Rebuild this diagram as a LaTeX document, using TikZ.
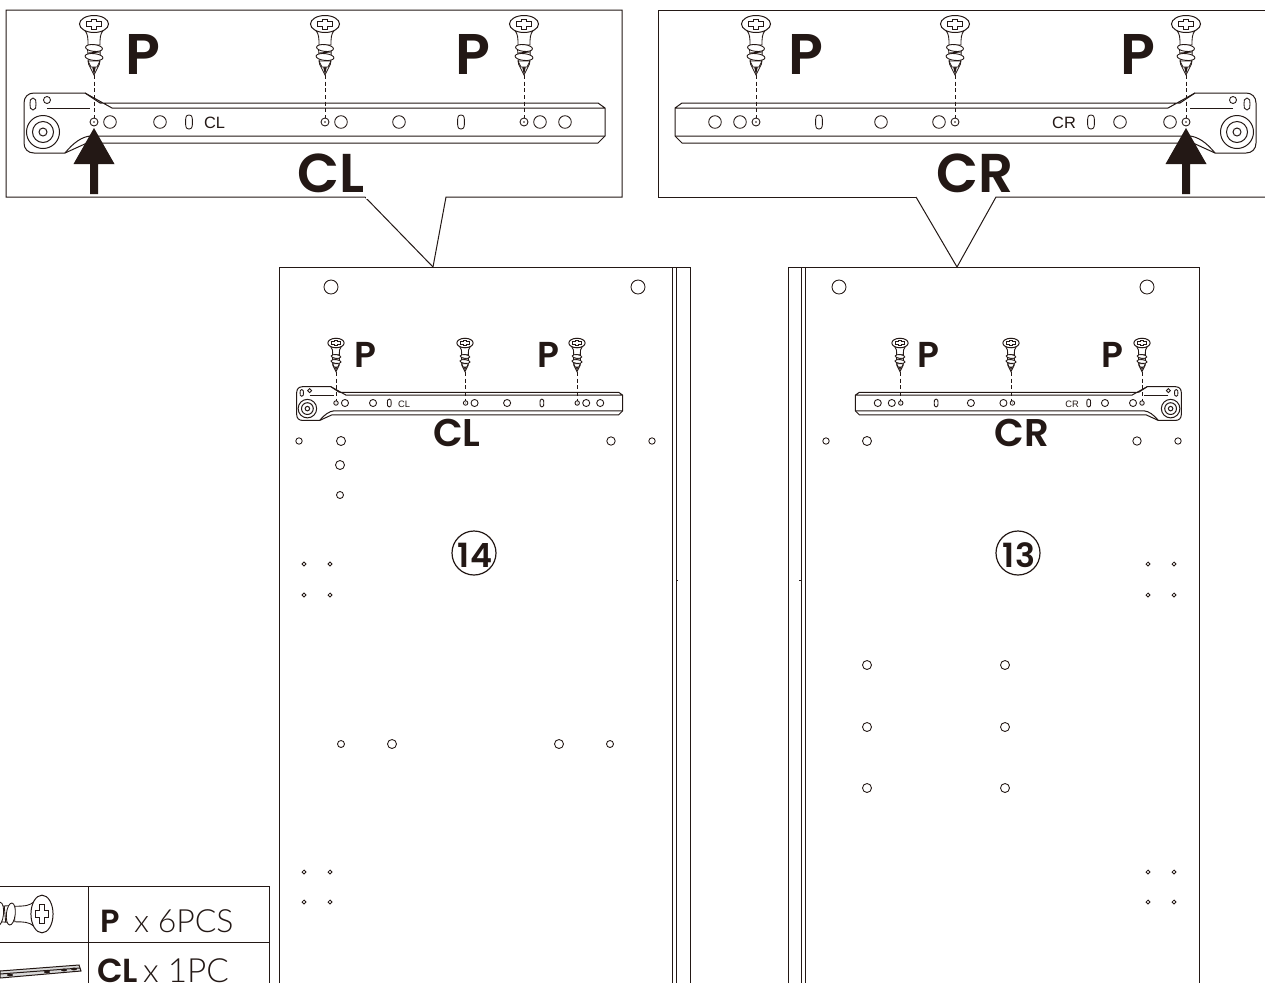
\documentclass[tikz,border=0pt]{standalone}
\usepackage{fontspec}
\setmainfont{Liberation Sans}
\newfontfamily\pop{Poppins SemiBold}
\newfontfamily\popl{Lato Light}
\definecolor{ink}{RGB}{35,24,21}
\tikzset{
  ln/.style={draw=ink,line width=0.75pt},
  thin ln/.style={draw=ink,line width=0.65pt},
  hole/.style={draw=ink,line width=0.65pt},
  bigp/.style={font=\pop\fontsize{43}{43}\selectfont,inner sep=0pt,text=ink},
  bigc/.style={font=\pop\fontsize{41}{41}\selectfont,inner sep=0pt,text=ink},
  smallp/.style={font=\pop\fontsize{27}{27}\selectfont,inner sep=0pt,text=ink},
  smallc/.style={font=\pop\fontsize{29}{29}\selectfont,inner sep=0pt,text=ink},
  num/.style={font=\pop\fontsize{25}{25}\selectfont,inner sep=0pt,text=ink},
  leg/.style={font=\popl\fontsize{24}{24}\selectfont,inner sep=0pt,anchor=base west,text=ink},
  dashln/.style={draw=ink,line width=0.6pt,dash pattern=on 3pt off 2pt},
  screwpic/.pic={
    \draw[thin ln,fill=white] (-9.5,6) .. controls (-6,10) and (-6,14) .. (-6,21) -- (6,21) .. controls (6,14) and (6,10) .. (9.5,6);
    \draw[thin ln,fill=white] (-6.5,24) -- (-5.5,40) -- (0,51) -- (5.5,40) -- (6.5,24) -- cycle;
    \fill[ink] (-1.8,43) -- (0,51) -- (1.8,43) -- cycle;
    \draw[thin ln,fill=white] (-3,43) -- (-6,37) -- (6,37) -- (3,43) -- cycle;
    \draw[thin ln,fill=white,shift={(0,24)},rotate=-6] (0,0) ellipse[x radius=8.5,y radius=3.4];
    \draw[thin ln,fill=white,shift={(0,33)},rotate=-6] (0,0) ellipse[x radius=9,y radius=3.4];
    \draw[thin ln] (-6,29) -- (6,28);
    \draw[ln,fill=white] (0,0) ellipse[x radius=14.5,y radius=8.5];
    \draw[thin ln,fill=white] (-2.8,-5) -- (2.8,-5) -- (2.8,-2.2) -- (7.5,-2.2) -- (7.5,2.2) -- (2.8,2.2) -- (2.8,5) -- (-2.8,5) -- (-2.8,2.2) -- (-7.5,2.2) -- (-7.5,-2.2) -- (-2.8,-2.2) -- cycle;
  },
  bracket/.pic={
    \draw[ln,fill=white,line join=round] (6,-19) -- (504,-19) -- (511,-14) -- (511,14) -- (504,21) -- (-7,21) -- (-29,31) -- (-60,31) .. controls (-66,31) and (-70,27) .. (-70,21) -- (-70,-19) .. controls (-70,-25) and (-66,-29) .. (-60,-29) -- (-9,-29) -- (18,-14) -- (511,-14);
    \draw[ln] (-29,31) .. controls (-20,20) and (-12,15) .. (-4,14) -- (511,14);
    \draw[ln] (-9,-29) -- (6,-19);
    \draw[thin ln] (-47,-14) -- (-4,-14);
    \draw[hole] (-61,-24) .. controls (-58,-24) and (-58,-21) .. (-58,-18) .. controls (-58,-15) and (-58,-12) .. (-61,-12) .. controls (-64,-12) and (-64,-15) .. (-64,-18) .. controls (-64,-21) and (-64,-24) .. (-61,-24) -- cycle;
    \draw[hole] (-47,-22) circle[radius=3.5];
    \draw[ln] (-51,10) circle[radius=16.5] circle[radius=10.5] circle[radius=4];
    \foreach \x in {0,231,430}{\draw[hole] (\x,0) circle[radius=4]; \fill[ink] (\x,0) circle[radius=0.8];}
    \foreach \x in {16,66,247,305,446,471}{\draw[hole] (\x,0) circle[radius=6.3];}
    \foreach \x in {95,367}{\draw[hole,shift={(\x,0)}] (0,-7) .. controls (3.4,-7) and (3.4,-4) .. (3.4,0) .. controls (3.4,4) and (3.4,7) .. (0,7) .. controls (-3.4,7) and (-3.4,4) .. (-3.4,0) .. controls (-3.4,-4) and (-3.4,-7) .. (0,-7) -- cycle;}
  },
  uparrow/.pic={
    \fill[ink] (0,0) -- (20.5,36) -- (4,36) -- (4,66) -- (-4,66) -- (-4,36) -- (-20.5,36) -- cycle;
  },
  ring/.style={circle,draw=ink,line width=0.9pt,minimum size=33pt,inner sep=0pt},
}
\begin{document}
\begin{tikzpicture}[x=0.75pt,y=-0.75pt]
\useasboundingbox (0,0) rectangle (1265,983);
\clip (0,0) rectangle (1265,983);
\fill[white] (0,0) rectangle (1265,983);

% panels
\coordinate (lpB) at (279,983); \coordinate (lpT) at (279,267); \coordinate (lpR) at (690,267); \coordinate (lpE) at (690,983);
\draw[ln] (lpB) -- (lpT) -- (lpR) -- (lpE);
\draw[ln] (672,267) -- (672,983) (676,267) -- (676,983) (676,580) -- (678,580);
\coordinate (rpB) at (788,983); \coordinate (rpT) at (788,267); \coordinate (rpR) at (1199,267); \coordinate (rpE) at (1199,983);
\draw[ln] (rpB) -- (rpT) -- (rpR) -- (rpE);
\draw[ln] (801,267) -- (801,983) (805,267) -- (805,983) (799,580) -- (801,580);

% callouts
\coordinate (lc) at (433,267); \coordinate (rc) at (957,267);
\draw[ln] (365,197) -- (6,197) -- (6,10) -- (622,10) -- (622,197) -- (446,197) -- (lc) -- cycle;
\fill[white] (366,196) -- (445,196) -- (445,198.5) -- (366,198.5) -- cycle;
\draw[ln] (916,197) -- (658,197) -- (658,10) -- (1266,10);
\draw[ln] (1266,197) -- (996,197) -- (rc) -- (916,197);

% panel holes
\foreach \x/\y/\r in {331/287/7,638/287/7,299/441/3.2,341/441/4.5,611/441/4.2,652/441/3.2,340/465/4.5,340/495/3.5,
  304/564/1.9,330/564/1.9,304/595/1.9,330/595/1.9,341/744/3.5,392/744/4.5,559/744/4.5,610/744/3.5,
  304/872/1.9,330/872/1.9,304/902/1.9,330/902/1.9,
  839/287/7,1147/287/7,826/441/3.2,867/441/4.5,1137/441/4.2,1178/441/3.2,
  1148/564/1.9,1174/564/1.9,1148/595/1.9,1174/595/1.9,
  867/665/4.5,1005/665/4.5,867/727/4.5,1005/727/4.5,867/788/4.5,1005/788/4.5,
  1148/872/1.9,1174/872/1.9,1148/902/1.9,1174/902/1.9}
  {\draw[hole] (\x,\y) circle[radius=\r];}

% brackets
\pic[xshift=94*0.75pt,yshift=-122*0.75pt] {bracket};
\pic[xshift=1186*0.75pt,yshift=-122*0.75pt,xscale=-1] {bracket};
\pic[xshift=336*0.75pt,yshift=-403*0.75pt,scale=0.561] {bracket};
\pic[xshift=1142*0.75pt,yshift=-403*0.75pt,xscale=-0.561,yscale=0.561] {bracket};

% big screws and dashes
\foreach \n/\x in {a/94,b/325,c/524,d/756,e/955,f/1186}{
  \coordinate (t\n) at (\x,75); \coordinate (h\n) at (\x,118);
  \draw[dashln] (t\n) -- (h\n);
  \pic[xshift=\x*0.75pt,yshift=-24*0.75pt] {screwpic};
}
% small screws and dashes
\foreach \n/\x in {g/336,h/465,i/577,j/900,k/1011,l/1142}{
  \coordinate (t\n) at (\x,372); \coordinate (h\n) at (\x,401);
  \draw[dashln] (t\n) -- (h\n);
  \pic[xshift=\x*0.75pt,yshift=-343*0.75pt,scale=0.561] {screwpic};
}
% arrows
\pic[xshift=94*0.75pt,yshift=-128*0.75pt] {uparrow};
\pic[xshift=1186*0.75pt,yshift=-128*0.75pt] {uparrow};

% labels
\node[bigp] (p1) at (143,54) {P};
\node[bigp] (p2) at (473,54) {P};
\node[bigp] (p3) at (806,54) {P};
\node[bigp] (p4) at (1138,54) {P};
\node[bigc] (cl1) at (331,173) {CL};
\node[bigc] (cr1) at (975,173) {CR};
\node[smallp] (p5) at (365,355) {P};
\node[smallp] (p6) at (548,355) {P};
\node[smallp] (p7) at (928,355) {P};
\node[smallp] (p8) at (1112,355) {P};
\node[smallc] (cl2) at (457,433) {CL};
\node[smallc] (cr2) at (1022,433) {CR};
\node[font=\fontsize{12.3}{12.3}\selectfont,inner sep=0pt,text=ink] (lb1) at (214.5,123) {CL};
\node[font=\fontsize{12.3}{12.3}\selectfont,inner sep=0pt,text=ink] (lb2) at (1064,123) {CR};
\node[font=\fontsize{7}{7}\selectfont,inner sep=0pt,text=ink] (lb3) at (404,404) {CL};
\node[font=\fontsize{7}{7}\selectfont,inner sep=0pt,text=ink] (lb4) at (1072,404) {CR};
\node[ring] (r14) at (474,553) {};
\node[num] (n14) at (475,555) {14};
\node[ring] (r13) at (1018,553) {};
\node[num] (n13) at (1019,555) {13};

% legend
\draw[ln] (0,886) -- (269,886) -- (269,983) (88,886) -- (88,983) (0,942) -- (269,942);
\begin{scope}
\clip (0,887) rectangle (87,941);
\pic[xshift=42*0.75pt,yshift=-914*0.75pt,rotate=-90,scale=1.3] {screwpic};
\end{scope}
\node[leg] (lg1) at (100,932) {{\pop P}\hspace{0.45em}x 6PCS};
\node[leg,font=\popl\fontsize{25}{25}\selectfont] (lg2) at (97,982) {{\pop CL}\hspace{0.15em}x 1PC};
\draw[ln,fill=black!15] (0,971) -- (79,965) -- (81,971) -- (0,978) -- cycle;
\draw[ln] (0,974) -- (80,968);
\foreach \x/\y in {10/975,47/972,64/970,74/969}{\fill[ink] (\x,\y) ellipse[x radius=3,y radius=1.4];}
\end{tikzpicture}
\end{document}
